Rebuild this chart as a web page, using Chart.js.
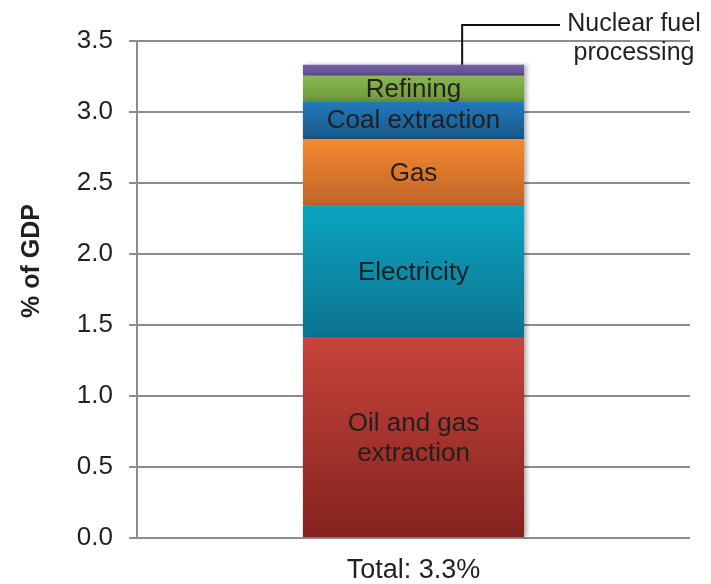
<!DOCTYPE html>
<html>
<head>
<meta charset="utf-8">
<script src="https://cdn.jsdelivr.net/npm/chart.js@4/dist/chart.umd.min.js"></script>
<style>
  html, body { margin: 0; padding: 0; background: #fff; }
  #wrap { width: 711px; height: 584px; position: relative; }
</style>
</head>
<body>
<div id="wrap"><canvas id="chart"></canvas></div>
<script>
// Share of GDP by energy sector (stacked, bottom to top)
const categories = ['Total: 3.3%'];
const sectors = ['Oil and gas extraction', 'Electricity', 'Gas', 'Coal extraction', 'Refining', 'Nuclear fuel processing'];
const sectorLabels = [['Oil and gas', 'extraction'], ['Electricity'], ['Gas'], ['Coal extraction'], ['Refining'], null];
const values = [1.41, 0.93, 0.47, 0.265, 0.18, 0.077];
const yTicks = [0, 0.5, 1.0, 1.5, 2.0, 2.5, 3.0, 3.5];
const yTitle = '% of GDP';

// top / bottom colour of each segment's gradient
const topColors = ['#c6443b', '#0aa4c0', '#f68a2f', '#2179bd', '#89b84d', '#7562a7'];
const bottomColors = ['#84221e', '#0c7390', '#bf6429', '#195889', '#6e993b', '#5d498b'];

const FONT = '"Liberation Sans", Arial, sans-serif';
const TEXT = '#231f20';
const GRID = '#8c8c8c';

function gradientFor(i) {
  return (ctx) => {
    const chart = ctx.chart;
    const y = chart.scales && chart.scales.y;
    if (!y || !chart.chartArea) return topColors[i];
    let base = 0;
    for (let k = 0; k < i; k++) base += values[k];
    const y0 = y.getPixelForValue(base + values[i]);
    const y1 = y.getPixelForValue(base);
    if (!isFinite(y0) || !isFinite(y1) || y0 === y1) return topColors[i];
    const g = chart.ctx.createLinearGradient(0, y0, 0, y1);
    g.addColorStop(0, topColors[i]);
    g.addColorStop(1, bottomColors[i]);
    return g;
  };
}

// soft shadow on the right of the bar
const barShadow = {
  id: 'barShadow',
  beforeDatasetsDraw(chart) {
    const c = chart.ctx;
    c.save();
    c.shadowColor = 'rgba(0,0,0,0.28)';
    c.shadowBlur = 4;
    c.shadowOffsetX = 3;
    c.shadowOffsetY = 0;
  },
  afterDatasetsDraw(chart) {
    chart.ctx.restore();
  }
};

// labels inside each segment + the callout for the thin top segment
const segmentText = {
  id: 'segmentText',
  afterDatasetsDraw(chart) {
    const c = chart.ctx;
    c.save();
    c.fillStyle = TEXT;
    c.textAlign = 'center';
    c.textBaseline = 'middle';
    c.font = '26px ' + FONT;
    chart.data.datasets.forEach((ds, i) => {
      const el = chart.getDatasetMeta(i).data[0];
      const lines = sectorLabels[i];
      if (!el || !lines) return;
      const mid = (el.y + el.base) / 2;
      const lh = 30;
      lines.forEach((t, k) => {
        c.fillText(t, el.x, mid + 1 + (k - (lines.length - 1) / 2) * lh);
      });
    });

    // callout for nuclear fuel processing
    const last = chart.getDatasetMeta(sectors.length - 1).data[0];
    if (last) {
      const lx = last.x + last.width * 0.22;
      c.strokeStyle = '#111';
      c.lineWidth = 2;
      c.beginPath();
      c.moveTo(lx, last.y);
      c.lineTo(lx, 25);
      c.lineTo(560, 25);
      c.stroke();
      c.font = '25px ' + FONT;
      c.fillText('Nuclear fuel', 634, 24);
      c.fillText('processing', 634, 53);
    }

    // y axis title (sits a little above the axis middle, as in the original)
    c.translate(32, 261);
    c.rotate(-Math.PI / 2);
    c.font = 'bold 25px ' + FONT;
    c.fillText(yTitle, 0, 0);
    c.restore();
  }
};

new Chart(document.getElementById('chart'), {
  type: 'bar',
  data: {
    labels: categories,
    datasets: sectors.map((name, i) => ({
      label: name,
      data: [values[i]],
      backgroundColor: gradientFor(i),
      borderWidth: 0,
      barPercentage: 0.4,
      categoryPercentage: 1.0
    }))
  },
  options: {
    responsive: true,
    maintainAspectRatio: false,
    animation: false,
    layout: { padding: { top: 41, right: 21, left: 0, bottom: 0 } },
    plugins: {
      legend: { display: false },
      tooltip: { enabled: false }
    },
    scales: {
      x: {
        stacked: true,
        afterFit: (scale) => { scale.height = 46; },
        grid: { display: false, drawTicks: false },
        border: { display: false },
        ticks: { color: TEXT, font: { family: FONT, size: 27 }, padding: 16 }
      },
      y: {
        stacked: true,
        min: 0,
        max: 3.5,
        afterBuildTicks: (scale) => { scale.ticks = yTicks.map(v => ({ value: v })); },
        afterFit: (scale) => { scale.width = 137; },
        grid: { color: GRID, lineWidth: 2, tickLength: 8 },
        border: { color: GRID, width: 2 },
        ticks: {
          color: TEXT,
          font: { family: FONT, size: 26 },
          padding: 16,
          callback: (v) => Number(v).toFixed(1)
        },
        title: { display: false }
      }
    }
  },
  plugins: [barShadow, segmentText]
});
</script>
</body>
</html>
